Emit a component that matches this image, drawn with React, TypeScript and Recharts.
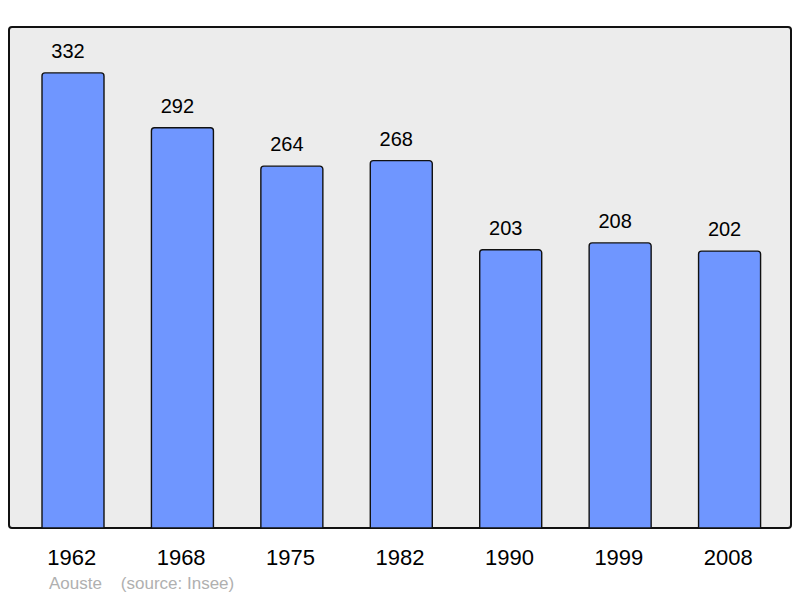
import { BarChart, Bar, XAxis, YAxis, LabelList } from "recharts";

const years = ["1962", "1968", "1975", "1982", "1990", "1999", "2008"];
const population = [332, 292, 264, 268, 203, 208, 202];
const footerText = "Aouste    (source: Insee)";

const data = years.map((year, i) => ({ year, population: population[i] }));

const FONT = "'Liberation Sans', Arial, sans-serif";

export default function App() {
  return (
    <div
      style={{
        position: "absolute",
        left: 0,
        top: 0,
        width: 800,
        height: 598,
        background: "#ffffff",
        fontFamily: FONT,
      }}
    >
      {/* plot frame */}
      <div
        style={{
          position: "absolute",
          left: 8,
          top: 26,
          width: 784,
          height: 503,
          boxSizing: "border-box",
          border: "2px solid #111",
          borderRadius: 4,
          background: "#ececec",
        }}
      />
      <div style={{ position: "absolute", left: 0, top: 0 }}>
        <BarChart
          width={800}
          height={598}
          data={data}
          margin={{ top: 27, right: 8, bottom: 40, left: 9 }}
        >
          <XAxis
            dataKey="year"
            height={30}
            axisLine={false}
            tickLine={false}
            tickSize={0}
            tickMargin={21}
            padding={{ left: 9, right: 8 }}
            interval={0}
            tick={{ fill: "#000", fontSize: 22, fontFamily: FONT, dx: -1 }}
          />
          <YAxis hide domain={[0, 365.5]} />
          <Bar
            dataKey="population"
            barSize={62}
            fill="#6f96ff"
            stroke="#111"
            strokeWidth={1.4}
            radius={[3, 3, 0, 0]}
            isAnimationActive={false}
          >
            <LabelList
              dataKey="population"
              position="top"
              offset={15}
              dx={-5}
              fill="#000"
              fontSize={20}
              fontFamily={FONT}
            />
          </Bar>
        </BarChart>
      </div>
      <div
        style={{
          position: "absolute",
          left: 49,
          top: 574,
          fontSize: 17,
          color: "#b0b0b0",
          whiteSpace: "pre",
          fontFamily: FONT,
        }}
      >
        {footerText}
      </div>
    </div>
  );
}
